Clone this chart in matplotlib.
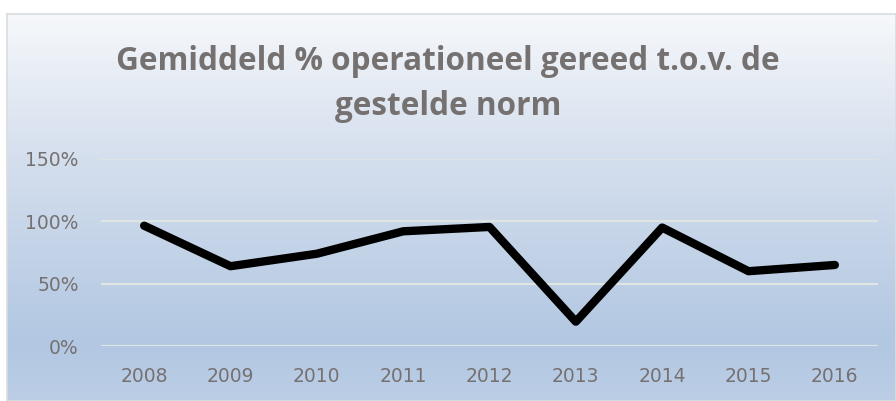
import numpy as np
import matplotlib.pyplot as plt
from matplotlib.colors import LinearSegmentedColormap
from matplotlib.ticker import FuncFormatter

# Data
years = ['2008', '2009', '2010', '2011', '2012', '2013', '2014', '2015', '2016']
readiness = [96.5, 64, 74, 92, 95.5, 19.5, 95, 60, 65]
y_ticks = [0, 50, 100, 150]

title = 'Gemiddeld % operationeel gereed t.o.v. de\ngestelde norm'
text_color = '#767171'

fig = plt.figure(figsize=(8.96, 4.01), dpi=100)
fig.patch.set_facecolor('white')

# gradient background of the chart area
bg = fig.add_axes([7 / 896, 0, 1 - 7 / 896, 1 - 14 / 401], zorder=0)
cmap = LinearSegmentedColormap.from_list(
    'bg', [(0.0, '#f6f8fb'), (0.35, '#d6e0ee'), (0.85, '#b2c7e2'), (1.0, '#bccee6')])
grad = np.linspace(0, 1, 256).reshape(-1, 1)
bg.imshow(grad, aspect='auto', cmap=cmap, extent=[0, 1, 0, 1], origin='upper')
bg.set_xticks([])
bg.set_yticks([])
for s in bg.spines.values():
    s.set_color('#d9dde0')
    s.set_linewidth(1.2)

ax = fig.add_axes([101 / 896, 1 - 346 / 401, (878 - 101) / 896, (346 - 159) / 401], zorder=1)
ax.patch.set_alpha(0)
x = np.arange(len(years))
ax.plot(x, readiness, color='black', linewidth=6, solid_capstyle='round',
        solid_joinstyle='round', zorder=3, clip_on=False)

ax.set_xlim(-0.5, len(years) - 0.5)
ax.set_ylim(0, 150)
ax.set_yticks(y_ticks)
ax.yaxis.set_major_formatter(FuncFormatter(lambda v, p: f'{int(v)}%'))
ax.set_xticks(x)
ax.set_xticklabels(years)
ax.grid(axis='y', color='#dfe5e2', linewidth=1.6)
ax.set_axisbelow(True)
ax.tick_params(length=0, labelsize=13.5, colors=text_color)
ax.tick_params(axis='x', pad=15)
ax.tick_params(axis='y', pad=16)
for s in ax.spines.values():
    s.set_visible(False)

fig.text(0.5, 1 - 84 / 401, title, ha='center', va='center', fontsize=22.7,
         fontweight='bold', color=text_color, family=['Open Sans', 'DejaVu Sans'],
         linespacing=1.47)

fig.savefig('out.png', dpi=100)
